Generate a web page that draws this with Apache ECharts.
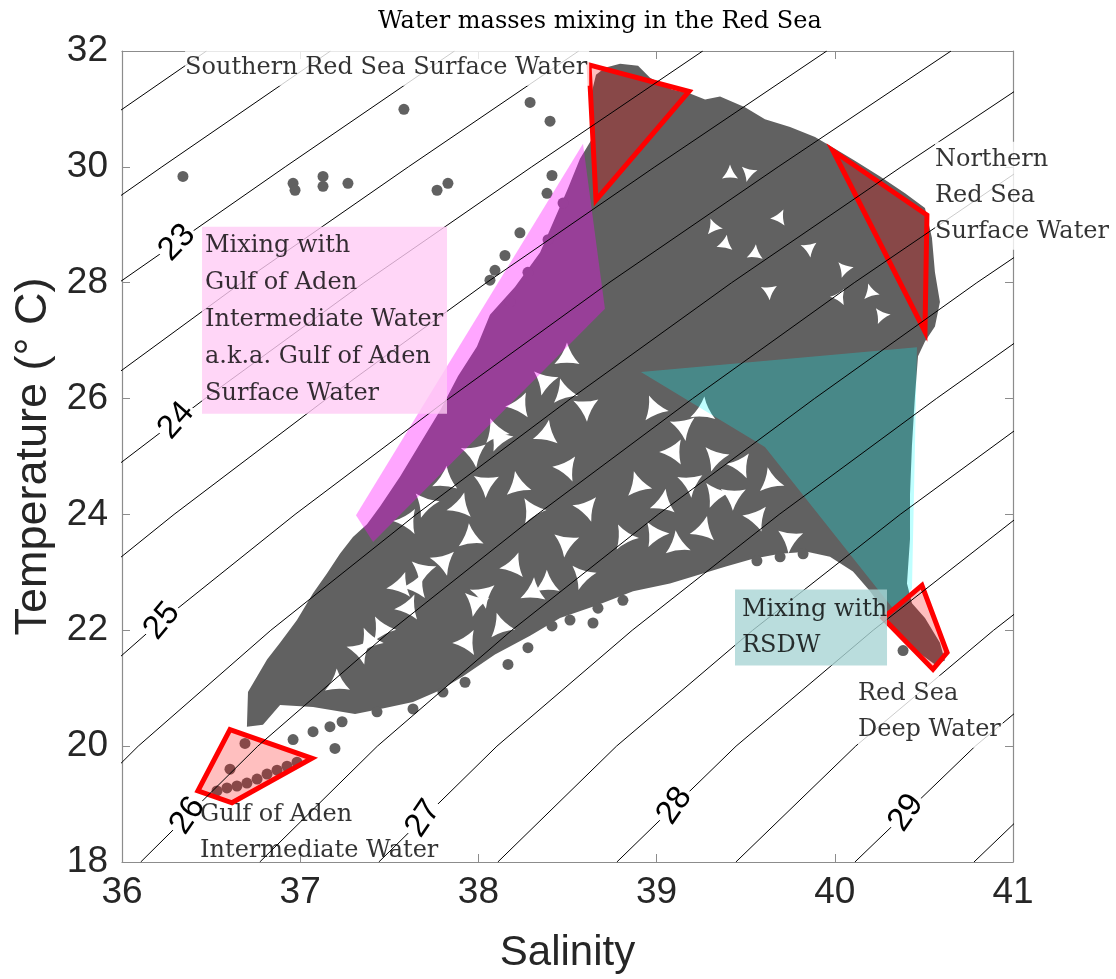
<!DOCTYPE html>
<html><head><meta charset="utf-8">
<script src="https://cdn.jsdelivr.net/npm/echarts@6/dist/echarts.min.js"></script>
<style>html,body{margin:0;padding:0;background:#fff}#c{width:1116px;height:979px}</style>
</head><body><div id="c"></div>
<script>
// ---- axes ----
const salinityTicks = [36, 37, 38, 39, 40, 41];
const temperatureTicks = [18, 20, 22, 24, 26, 28, 30, 32];

// ---- sigma-t isopycnals, [salinity, temperature] ----
const iso22   = [[34.607,28],[35.533,30],[36.474,32]];
const iso22_5 = [[34.415,26],[35.294,28],[36.224,30],[37.170,32]];
const iso23   = [[35.099,26],[35.982,28],[36.916,30],[37.866,32]];
const iso23_5 = [[34.933,24],[35.782,26],[36.670,28],[37.607,30],[38.563,32]];
const iso24   = [[34.808,22],[35.613,24],[36.466,26],[37.358,28],[38.299,30],[39.259,32]];
const iso24_5 = [[34.749,20],[35.484,22],[36.292,24],[37.150,26],[38.045,28],[38.990,30],[39.955,32]];
const iso25   = [[34.770,18],[35.420,20],[36.159,22],[36.971,24],[37.834,26],[38.733,28],[39.682,30],[40.652,32]];
const iso25_5 = [[35.438,18],[36.091,20],[36.835,22],[37.651,24],[38.518,26],[39.421,28],[40.373,30],[41.348,32]];
const iso26   = [[36.105,18],[36.762,20],[37.511,22],[38.330,24],[39.202,26],[40.109,28],[41.065,30]];
const iso26_5 = [[36.773,18],[37.433,20],[38.187,22],[39.009,24],[39.886,26],[40.797,28],[41.757,30]];
const iso27   = [[37.441,18],[38.104,20],[38.863,22],[39.688,24],[40.570,26],[41.485,28]];
const iso27_5 = [[38.109,18],[38.775,20],[39.539,22],[40.367,24],[41.254,26]];
const iso28   = [[38.777,18],[39.446,20],[40.215,22],[41.046,24]];
const iso28_5 = [[39.445,18],[40.117,20],[40.891,22],[41.725,24]];
const iso29   = [[40.113,18],[40.788,20],[41.567,22]];
const iso29_5 = [[40.781,18],[41.459,20],[42.243,22]];
const isopycnals = [iso22, iso22_5, iso23, iso23_5, iso24, iso24_5, iso25, iso25_5,
                    iso26, iso26_5, iso27, iso27_5, iso28, iso28_5, iso29, iso29_5];

// contour labels
const sigmaLabels = ['23', '24', '25', '26', '27', '28', '29'];
const sigmaLabelLine = [iso23, iso24, iso25, iso26, iso27, iso28, iso29];
const sigmaLabelAt = [[36.309,28.69],[36.304,25.62],[36.224,22.16],[36.368,18.80],[37.690,18.75],[39.101,18.97],[40.400,18.85]];

// ---- observations: dense cloud outline ----
const denseCloud = [
[38.637,30.482],[38.626,31.164],[38.660,31.591],[38.710,31.710],[38.795,31.778],[38.896,31.744],[38.963,31.540],
[39.086,31.335],[39.187,31.267],[39.272,31.164],[39.356,31.216],[39.496,31.028],[39.608,30.823],[39.749,30.687],
[39.889,30.516],[40.001,30.312],[40.113,30.107],[40.254,29.834],[40.394,29.544],[40.506,29.289],[40.545,28.777],
[40.562,28.180],[40.590,27.668],[40.562,27.242],[40.506,26.986],[40.467,26.731],[40.450,26.048],[40.433,25.196],
[40.422,24.343],[40.422,23.576],[40.405,22.808],[40.433,22.467],[40.506,22.211],[40.590,21.785],[40.618,21.478],
[40.562,21.410],[40.433,21.700],[40.338,21.956],[40.265,22.382],[40.198,22.672],[40.102,23.013],[39.973,23.269],
[39.844,23.354],[39.693,23.320],[39.541,23.235],[39.384,23.098],[39.260,22.979],[39.075,22.808],[38.868,22.672],
[38.666,22.433],[38.458,22.211],[38.290,21.905],[38.093,21.581],[37.914,21.205],[37.785,20.967],[37.633,20.762],
[37.476,20.660],[37.308,20.557],[37.072,20.677],[36.887,20.711],[36.791,20.370],[36.701,20.336],[36.707,20.933],
[36.814,21.495],[36.887,21.785],[36.982,22.177],[37.072,22.638],[37.150,22.979],[37.223,23.320],[37.296,23.610],
[37.375,23.832],[37.448,24.138],[37.560,24.650],[37.661,25.162],[37.785,25.793],[37.886,26.389],[37.992,26.901],
[38.065,27.447],[38.205,27.924],[38.346,28.521],[38.430,29.118],[38.503,29.630],[38.570,30.141]
];
// isolated observations
const strayPoints = [
[36.342,29.834],[36.960,29.715],[36.971,29.596],[37.128,29.834],[37.128,29.664],[37.268,29.715],[37.582,30.994],
[37.768,29.596],[37.829,29.715],[38.290,31.113],[38.402,30.789],[38.413,29.851],[38.385,29.544],[38.233,28.862],
[38.149,28.470],[38.093,28.214],[38.065,28.044],[38.278,28.180],[38.391,28.743],[38.475,29.374],[38.177,27.668],
[36.960,20.114],[37.072,20.250],[37.167,20.336],[37.195,19.961],[37.235,20.421],[37.431,20.592],[37.633,20.643],
[37.801,20.933],[37.925,21.103],[38.166,21.410],[38.278,21.700],[38.413,22.075],[38.514,22.177],[38.643,22.126],
[38.671,22.382],[38.811,22.518],[39.563,23.200],[39.693,23.269],[39.822,23.320],[40.383,21.649],[36.690,20.046]
];
const gaiwPoints = [
[36.533,19.227],[36.589,19.278],[36.645,19.312],[36.701,19.363],[36.758,19.432],[36.814,19.517],[36.870,19.585],
[36.926,19.653],[36.982,19.722],[36.606,19.602]
];
// empty gaps inside the cloud
const cloudGaps = [
[38.497,26.782],[38.357,26.338],[38.211,25.878],[38.088,25.486],[37.958,25.076],[37.796,24.565],[37.689,24.224],
[37.582,23.883],[38.475,26.168],[38.587,25.878],[38.363,25.366],[38.104,25.366],[38.475,24.804],[38.217,24.565],
[38.026,24.565],[37.880,24.121],[38.290,24.121],[38.587,24.121],[37.953,23.661],[38.475,23.542],[38.177,23.098],
[38.811,23.661],[37.785,23.200],[38.385,22.860],[37.970,22.518],[37.633,22.757],
[38.980,25.878],[39.131,25.537],[39.244,25.759],[39.316,25.025],[39.075,25.076],[38.890,24.565],[39.171,24.565],
[39.019,24.173],[39.316,24.394],[39.451,24.855],[39.636,24.633],[39.412,24.343],[39.244,23.712],[38.980,23.712],
[39.541,23.951],[39.114,23.542],[39.732,23.610],
[37.543,22.757],[37.448,22.075],[37.319,21.666],[37.207,21.154],[37.672,23.064],[37.588,22.382],[37.380,21.870],
[38.009,22.638],[38.290,22.638],[38.570,22.979],[37.914,21.785],[38.121,22.126]
];
const blobGaps = [
[39.412,29.920],[39.507,29.920],[39.676,29.118],[39.316,28.999],[39.844,28.606],[39.541,28.487],[40.046,28.265],
[40.012,27.754],[40.198,27.873],[39.620,27.873],[39.373,28.658],[40.254,27.464]
];

// ---- water-mass / mixing zones ----
const gulfOfAdenMixing = [[38.587,30.397],[38.710,27.549],[37.409,23.525],[37.313,23.985]];
const rsdwMixing = [[38.912,26.458],[40.461,26.884],[40.450,25.196],[40.433,22.723],[40.338,22.331],[39.608,25.162]];
const southernRSSW = [[38.621,31.761],[39.182,31.301],[38.660,29.425]];
const northernRSSW = [[39.990,30.278],[40.517,29.169],[40.506,27.157]];
const redSeaDeepWater = [[40.271,22.211],[40.489,22.774],[40.630,21.615],[40.551,21.325]];
const gulfOfAdenIW = [[36.606,20.285],[37.066,19.790],[36.617,19.022],[36.426,19.227]];

// ---- annotations ----
const titleText = 'Water masses mixing in the Red Sea';
const annSouthern = 'Southern Red Sea Surface Water';
const annNorthern = 'Northern\nRed Sea\nSurface Water';
const annGoaMix = 'Mixing with\nGulf of Aden\nIntermediate Water\na.k.a. Gulf of Aden\nSurface Water';
const annRsdwMix = 'Mixing with\nRSDW';
const annRsdw = 'Red Sea\nDeep Water';
const annGaiw = 'Gulf of Aden\nIntermediate Water';
const anchorSouthern = [36.354, 31.710];
const anchorNorthern = [40.562, 29.502];
const anchorGoaMix = [36.449, 27.353];
const anchorRsdwMix = [39.440, 22.050];
const anchorRsdw = [40.130, 20.592];
const anchorGaiw = [36.438, 18.511];

// ================= build =================
const chart = echarts.init(document.getElementById('c'), null, {renderer: 'canvas'});
const SERIF = 'DejaVu Serif';
const SANS = 'Liberation Sans';
// gap left between touching dots: a curved triangle
const GAP_SHAPE = 'path://M0,-10 Q2.6,-1.5 8.66,5 Q0,3 -8.66,5 Q-2.6,-1.5 0,-10 Z';

function polygon(points, style, z) {
  return {
    type: 'custom', coordinateSystem: 'cartesian2d', clip: true, silent: true, z: z,
    data: [points[0]],
    renderItem: function (params, api) {
      return {type: 'polygon', shape: {points: points.map(function (p) { return api.coord(p); })}, style: style};
    }
  };
}
function dots(data, color, size, z) {
  return {type: 'scatter', data: data, symbol: 'circle', symbolSize: size, silent: true, z: z, clip: true,
          itemStyle: {color: color, opacity: 1}};
}
function gaps(data, size) {
  return {type: 'scatter', data: data, symbol: GAP_SHAPE, symbolKeepAspect: true, symbolSize: size,
          symbolRotate: function (v, p) { return (p.dataIndex * 47) % 120; },
          silent: true, z: 3, clip: true, itemStyle: {color: '#ffffff', opacity: 1}};
}
function annotation(text, anchor, extra) {
  return {
    type: 'scatter', data: [anchor], symbolSize: 0, silent: true, z: 20, clip: false,
    label: Object.assign({
      show: true, position: 'right', distance: 0, formatter: text,
      fontFamily: SERIF, fontSize: 24, lineHeight: 36, color: '#000'
    }, extra)
  };
}

const series = [];
series.push(polygon(denseCloud, {fill: '#616161'}, 1));
series.push(dots(strayPoints.concat(gaiwPoints), '#616161', 11, 2));
series.push(gaps(cloudGaps, 25));
series.push(gaps(blobGaps, 16));
series.push(polygon(gulfOfAdenMixing, {fill: 'rgba(255,0,255,0.35)'}, 4));
series.push(polygon(rsdwMixing, {fill: 'rgba(0,255,255,0.25)'}, 4));
[southernRSSW, northernRSSW, redSeaDeepWater, gulfOfAdenIW].forEach(function (p) {
  series.push(polygon(p, {fill: 'rgba(255,0,0,0.25)', stroke: '#ff0000', lineWidth: 5, lineJoin: 'miter'}, 5));
});
isopycnals.forEach(function (line) {
  series.push({type: 'line', data: line, showSymbol: false, symbol: 'none', clip: true, silent: true, z: 6,
               lineStyle: {color: '#000', width: 1}});
});
// contour labels rotated along their isopycnal
series.push({
  type: 'custom', coordinateSystem: 'cartesian2d', clip: false, silent: true, z: 10,
  data: sigmaLabelAt,
  renderItem: function (params, api) {
    const i = params.dataIndex;
    const t = api.value(1);
    const line = sigmaLabelLine[i];
    let k = 0;
    while (k < line.length - 2 && line[k + 1][1] < t) k++;
    const a = api.coord(line[k]), b = api.coord(line[k + 1]);
    const ang = Math.atan2(a[1] - b[1], b[0] - a[0]) + 0.2;
    const p = api.coord([api.value(0), t]);
    return {type: 'text', x: p[0], y: p[1], rotation: ang,
            style: {text: sigmaLabels[i], fontSize: 33, fontFamily: SANS, fill: '#000',
                    align: 'center', verticalAlign: 'middle', backgroundColor: '#fff', padding: [0, 2]}};
  }
});
series.push(annotation(annSouthern, anchorSouthern, {backgroundColor: '#fff', padding: [0, 2, 0, 0]}));
series.push(annotation(annNorthern, anchorNorthern, {backgroundColor: '#fff', padding: [0, 2, 0, 0]}));
series.push(annotation(annGoaMix, anchorGoaMix, {backgroundColor: '#ffccf5', lineHeight: 37, width: 242, padding: [1, 0, 1, 3]}));
series.push(annotation(annRsdwMix, anchorRsdwMix, {backgroundColor: '#a9d4d4', width: 145, padding: [2, 0, 2, 7]}));
series.push(annotation(annRsdw, anchorRsdw, {backgroundColor: '#fff', padding: [0, 2, 0, 0]}));
series.push(annotation(annGaiw, anchorGaiw, {}));

const axisGray = '#8c8c8c';
function xAx(pos, labels) {
  return {type: 'value', position: pos, min: salinityTicks[0], max: salinityTicks[salinityTicks.length - 1],
    interval: salinityTicks[1] - salinityTicks[0], splitLine: {show: false},
    axisLine: {show: true, onZero: false, lineStyle: {color: axisGray, width: 1.2}},
    axisTick: {show: true, inside: true, length: 8, lineStyle: {color: axisGray}},
    axisLabel: {show: labels, fontFamily: SANS, fontSize: 37, color: '#262626', margin: 12},
    name: labels ? 'Salinity' : '', nameLocation: 'middle', nameGap: 70,
    nameTextStyle: {fontFamily: SANS, fontSize: 42, color: '#262626'}};
}
function yAx(pos, labels) {
  return {type: 'value', position: pos, min: temperatureTicks[0], max: temperatureTicks[temperatureTicks.length - 1],
    interval: temperatureTicks[1] - temperatureTicks[0], splitLine: {show: false},
    axisLine: {show: true, onZero: false, lineStyle: {color: axisGray, width: 1.2}},
    axisTick: {show: true, inside: true, length: 8, lineStyle: {color: axisGray}},
    axisLabel: {show: labels, fontFamily: SANS, fontSize: 37, color: '#262626', margin: 14},
    name: labels ? 'Temperature (° C)' : '', nameLocation: 'middle', nameGap: 66,
    nameTextStyle: {fontFamily: SANS, fontSize: 45, color: '#262626'}};
}

chart.setOption({
  animation: false,
  backgroundColor: '#fff',
  title: {text: titleText, left: 373, top: 5,
          textStyle: {fontFamily: SERIF, fontSize: 24, fontWeight: 'normal', color: '#000'}},
  grid: {left: 122, right: 103, top: 51, bottom: 107, containLabel: false},
  xAxis: [xAx('bottom', true), xAx('top', false)],
  yAxis: [yAx('left', true), yAx('right', false)],
  series: series
});
</script></body></html>
